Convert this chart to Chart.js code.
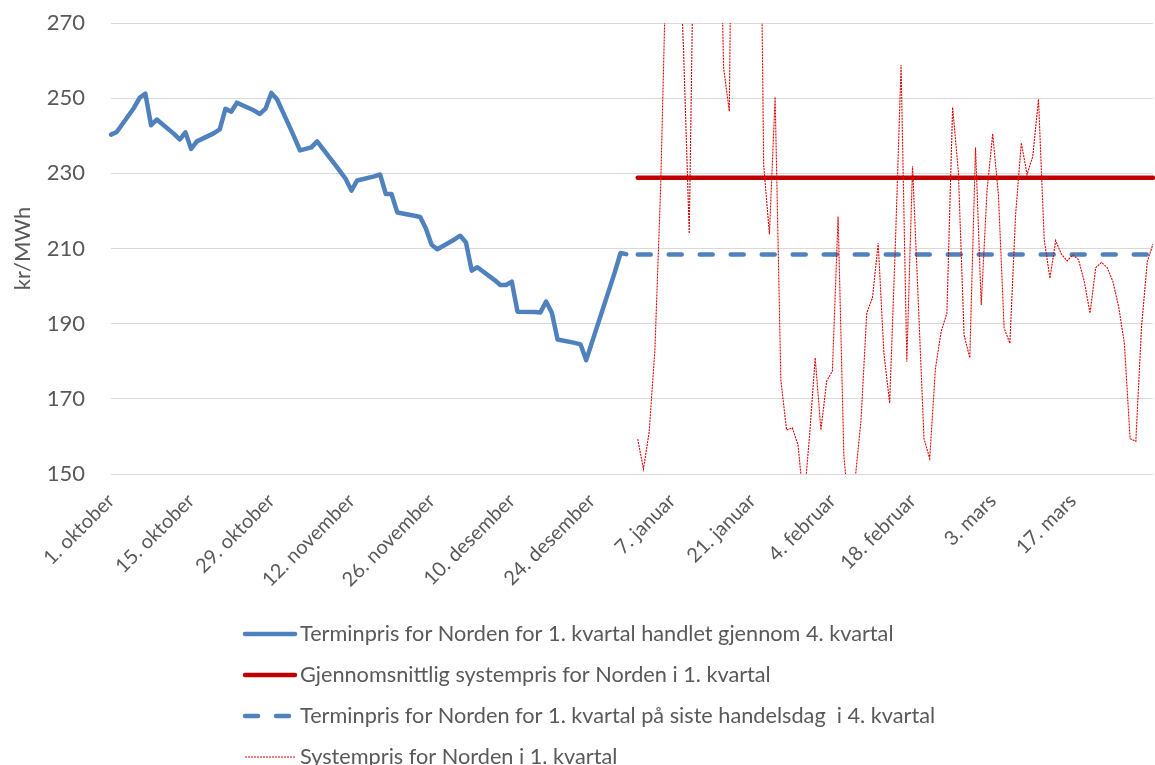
<!DOCTYPE html>
<html lang="no">
<head>
<meta charset="utf-8">
<title>Terminpris og systempris for Norden</title>
<script src="https://cdn.jsdelivr.net/npm/chart.js@4/dist/chart.umd.min.js"></script>
<style>
  html, body { margin: 0; padding: 0; background: #ffffff; }
  canvas { display: block; }
</style>
</head>
<body>
<canvas id="priceChart" width="1155" height="765"></canvas>
<script>
// Daily axis: 1. oktober 2015 to 31. mars 2016
const startDate = Date.UTC(2015, 9, 1);
const dayCount = 183;
const monthNames = ['januar', 'februar', 'mars', 'april', 'mai', 'juni', 'juli',
  'august', 'september', 'oktober', 'november', 'desember'];
const tickEvery = 14;
const lastTick = 168;               // 17. mars
const yTicks = { min: 150, max: 270, step: 20 };

// Terminpris for Q1 traded through Q4, one entry per day from 1. okt to 30. des (null = no trading)
const terminHandlet = [
  240.3, 241.0, null, null, 247.4, 250.1, 251.2, 242.8, 244.3, null,
  null, 240.5, 239.0, 240.9, 236.5, 238.5, null, null, 240.7, 241.7,
  247.2, 246.4, 248.8, null, null, 246.7, 245.8, 247.2, 251.4, 249.7,
  null, null, 239.7, 236.1, 236.5, 236.9, 238.5, null, null, 232.6,
  230.6, 228.5, 225.4, 228.1, null, null, 229.2, 229.7, 224.5, 224.5,
  219.6, null, null, 218.7, 218.4, 215.3, 211.0, 209.8, null, null,
  212.4, 213.4, 211.6, 204.1, 205.0, null, null, 201.6, 200.3, 200.3,
  201.2, 193.2, null, null, 193.1, 193.0, 195.9, 192.9, 185.8, null,
  null, 184.9, 184.5, 180.3, null, null, null, null, 203.7, 208.8,
  208.5
];

// Daily system price 1. jan to 31. mars
const systempris = [
  159.3, 151.3, 161.2, 183.0, 226.0, 289.0, 310.0, 300.0, 263.0, 214.0,
  320.0, 335.0, 325.0, 310.0, 330.0, 258.0, 246.5, 400.0, 420.0, 440.0,
  410.0, 368.0, 232.3, 213.8, 250.3, 175.0, 161.7, 162.3, 157.7, 142.0,
  160.0, 180.9, 161.7, 174.7, 177.4, 218.5, 155.0, 138.0, 149.0, 164.3,
  192.8, 196.9, 211.4, 182.1, 168.9, 211.0, 258.8, 179.9, 231.9, 196.0,
  159.4, 154.1, 178.1, 187.9, 192.8, 247.6, 230.5, 187.0, 180.9, 236.9,
  195.0, 225.2, 240.5, 224.3, 188.8, 184.8, 219.0, 238.1, 229.7, 234.5,
  249.7, 212.3, 202.1, 212.1, 208.5, 206.7, 208.3, 207.0, 201.2, 192.8,
  204.9, 206.3, 204.9, 201.2, 194.5, 184.8, 159.4, 158.7, 189.2, 206.5,
  211.2
];

const snittSystempris = 228.8;      // average system price in Q1
const terminSisteDag = 208.4;       // forward price on last trading day of Q4
const q1Start = 92;                 // index of 1. januar

// build categories
const labels = [];
for (let i = 0; i < dayCount; i++) {
  const d = new Date(startDate + i * 86400000);
  labels.push(d.getUTCDate() + '. ' + monthNames[d.getUTCMonth()]);
}

const pad = (arr, before) => {
  const out = new Array(before).fill(null).concat(arr);
  while (out.length < dayCount) out.push(null);
  return out;
};
const flatQ1 = (v) => labels.map((_, i) => i >= q1Start ? v : null);

Chart.defaults.font.family = 'Lato, "Open Sans", sans-serif';
Chart.defaults.color = '#595959';

// legend stacked in one column, left aligned
const stackedLegend = {
  id: 'stackedLegend',
  afterDraw(chart) {
    const ctx = chart.ctx;
    ctx.save();
    ctx.font = '21.7px Lato, "Open Sans", sans-serif';
    ctx.fillStyle = '#595959';
    ctx.textBaseline = 'middle';
    chart.data.datasets.forEach((ds, k) => {
      const y = 634 + k * 41;
      ctx.beginPath();
      ctx.strokeStyle = ds.borderColor;
      ctx.lineWidth = ds.borderWidth;
      ctx.lineCap = ds.borderCapStyle || 'butt';
      ctx.setLineDash(ds.borderDash || []);
      ctx.moveTo(245, y);
      ctx.lineTo(295, y);
      ctx.stroke();
      ctx.setLineDash([]);
      ctx.fillText(ds.label, 300, y);
    });
    ctx.restore();
  }
};

new Chart(document.getElementById('priceChart'), {
  type: 'line',
  data: {
    labels: labels,
    datasets: [
      {
        label: 'Terminpris for Norden for 1. kvartal handlet gjennom 4. kvartal',
        data: pad(terminHandlet, 0),
        borderColor: '#4F81BD',
        borderWidth: 4.5,
        borderCapStyle: 'round',
        borderJoinStyle: 'round',
        spanGaps: true,
        order: 4
      },
      {
        label: 'Gjennomsnittlig systempris for Norden i 1. kvartal',
        data: flatQ1(snittSystempris),
        borderColor: '#C00000',
        borderWidth: 4.5,
        borderCapStyle: 'round',
        order: 3
      },
      {
        label: 'Terminpris for Norden for 1. kvartal på siste handelsdag  i 4. kvartal',
        data: flatQ1(terminSisteDag),
        borderColor: '#4F81BD',
        borderWidth: 4.5,
        borderCapStyle: 'round',
        borderDash: [13, 18],
        order: 2
      },
      {
        label: 'Systempris for Norden i 1. kvartal',
        data: pad(systempris, q1Start),
        borderColor: '#E00000',
        borderWidth: 1.1,
        borderDash: [2, 1],
        order: 1
      }
    ]
  },
  options: {
    responsive: false,
    devicePixelRatio: 1,
    animation: false,
    elements: {
      line: { tension: 0 },
      point: { radius: 0, hoverRadius: 0 }
    },
    layout: {
      padding: { top: 23, right: 2, bottom: 150, left: 0 }
    },
    plugins: {
      legend: { display: false },
      tooltip: { enabled: false }
    },
    scales: {
      x: {
        type: 'category',
        offset: false,
        grid: { display: false },
        border: { display: false },
        ticks: {
          autoSkip: false,
          minRotation: 45,
          maxRotation: 45,
          padding: 7,
          font: { size: 20 },
          color: '#595959',
          callback: (v, i) => (i % tickEvery === 0 && i <= lastTick ? labels[i] : null)
        },
        afterFit: (s) => {
          s.height = 141;
          s.paddingRight = 0;
          s.paddingTop = 0;
        }
      },
      y: {
        min: yTicks.min,
        max: yTicks.max,
        grid: { color: '#D9D9D9', lineWidth: 1, drawTicks: false },
        border: { display: false },
        ticks: {
          stepSize: yTicks.step,
          padding: 26,
          font: { size: 22 },
          color: '#595959'
        },
        title: {
          display: true,
          text: 'kr/MWh',
          font: { size: 22 },
          color: '#595959',
          padding: { top: 10, bottom: 0 }
        },
        afterFit: (s) => {
          s.width = 111;
          s.paddingTop = 0;
          s.paddingBottom = 0;
        }
      }
    }
  },
  plugins: [stackedLegend]
});
</script>
</body>
</html>
